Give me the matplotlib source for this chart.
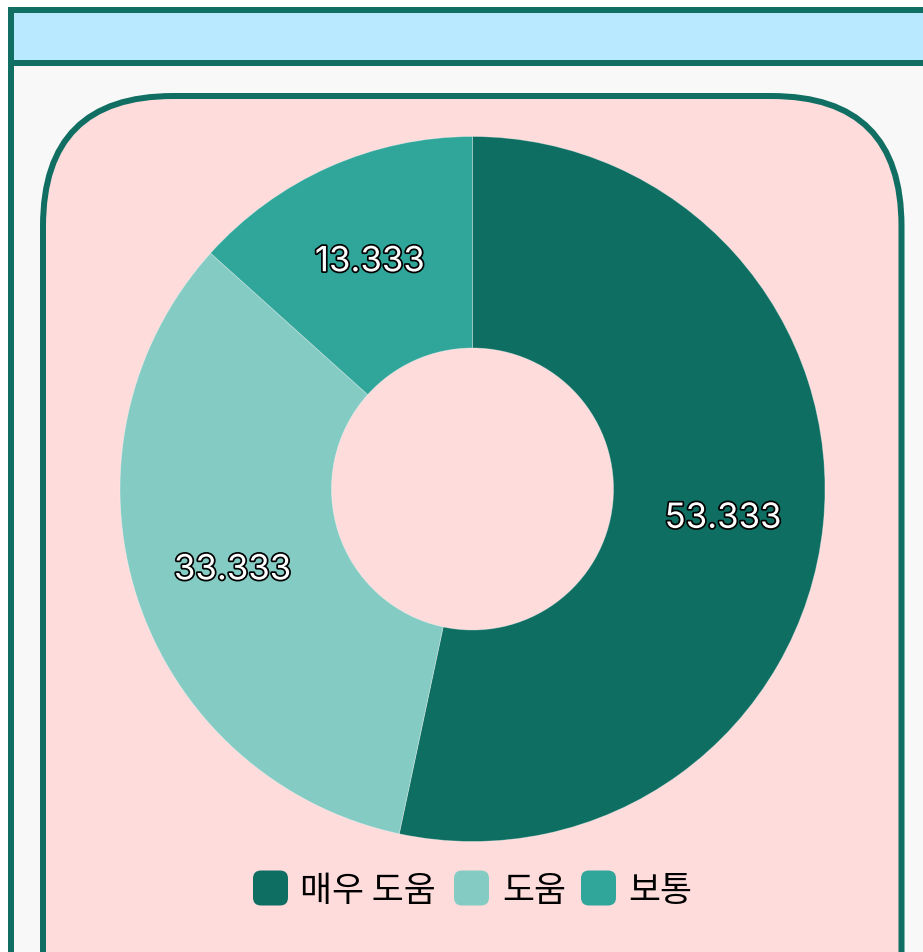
import matplotlib
matplotlib.use('Agg')
import matplotlib.pyplot as plt
import matplotlib.patheffects as pe
from matplotlib.patches import Rectangle, FancyBboxPatch

plt.rcParams['font.family'] = ['Inter', 'Noto Sans CJK KR', 'DejaVu Sans']

# data
labels = ['매우 도움', '도움', '보통']
values = [53.333, 33.333, 13.333]
colors = ['#0f6e62', '#84cbc4', '#30a69b']

teal = '#106e62'
W, H = 923, 952
fig = plt.figure(figsize=(W / 100, H / 100), dpi=100)
fig.patch.set_facecolor('white')

# background decoration in pixel coordinates (y downwards)
bg = fig.add_axes([0, 0, 1, 1])
bg.set_xlim(0, W)
bg.set_ylim(H, 0)
bg.axis('off')
lw = 6 * 72 / 100

bg.add_patch(Rectangle((11, 10), 940, 1000, facecolor='#f8f8f8', edgecolor=teal, linewidth=lw))
bg.add_patch(Rectangle((11, 10), 940, 53, facecolor='#b8e9fe', edgecolor=teal, linewidth=lw))
bg.add_patch(FancyBboxPatch((43 + 130, 96 + 130), 858.5 - 260, 1100,
                            boxstyle='round,pad=130,rounding_size=130',
                            facecolor='#fedcdc', edgecolor=teal, linewidth=lw))

# donut
cx, cy, r = 472.5, 489, 352.5
ax = fig.add_axes([(cx - r) / W, 1 - (cy + r) / H, 2 * r / W, 2 * r / H])
shown = iter(values)
wedges, texts, autotexts = ax.pie(values, colors=colors, startangle=90, counterclock=False,
                                  radius=1, autopct=lambda p: '%.3f' % next(shown), pctdistance=0.715,
                                  wedgeprops=dict(width=0.6, edgecolor=(1, 1, 1, 0.35), linewidth=0.6))
ax.set_xlim(-1, 1)
ax.set_ylim(-1, 1)
ax.axis('off')
for t in autotexts:
    t.set_color('white')
    t.set_fontsize(25)
    t.set_fontfamily(['Inter', 'DejaVu Sans'])
    t.set_verticalalignment('center_baseline')
    t.set_path_effects([pe.withStroke(linewidth=2.5, foreground='black')])

# legend with rounded swatches
sw_x = [253, 454, 581]
tx_x = [300, 502, 628]
ly = 888
for i, lab in enumerate(labels):
    bg.add_patch(FancyBboxPatch((sw_x[i] + 7, ly - 17.5 + 7), 21, 21,
                                boxstyle='round,pad=7,rounding_size=8',
                                facecolor=colors[i], edgecolor='none'))
    bg.text(tx_x[i], ly + 3, lab, fontsize=25, va='center', ha='left', color='black',
            family=['Noto Sans CJK KR', 'DejaVu Sans'])

fig.savefig('out.png', dpi=100)
